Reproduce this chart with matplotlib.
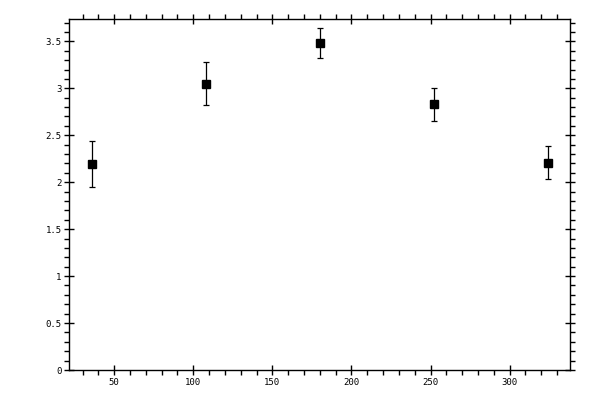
import matplotlib
matplotlib.use("Agg")
import matplotlib.pyplot as plt
from matplotlib.ticker import MultipleLocator, FormatStrFormatter, FuncFormatter

# data
angles = [36, 108, 180, 252, 324]
values = [2.19, 3.05, 3.48, 2.83, 2.21]
errors = [0.245, 0.23, 0.16, 0.175, 0.18]

plt.rcParams['font.family'] = ['DejaVu Sans Mono']

fig = plt.figure(figsize=(6, 4), dpi=100)
ax = fig.add_axes([0.1155, 0.075, 0.835, 0.8767])

ax.errorbar(angles, values, yerr=errors, fmt='s', color='black',
            markersize=5.2, capsize=2, elinewidth=0.9, capthick=0.9)

ax.set_xlim(21.6, 338.4)
ax.set_ylim(0, 3.735)

ax.xaxis.set_major_locator(MultipleLocator(50))
ax.xaxis.set_minor_locator(MultipleLocator(10))
ax.yaxis.set_major_locator(MultipleLocator(0.5))
ax.yaxis.set_minor_locator(MultipleLocator(0.1))
ax.yaxis.set_major_formatter(FuncFormatter(lambda v, p: f"{v:g}"))

for s in ax.spines.values():
    s.set_linewidth(1.0)

ax.tick_params(which='major', direction='inout', length=7, width=1.0,
               top=True, right=True, labelsize=6.5, pad=2)
ax.tick_params(which='minor', direction='out', length=3.5, width=1.0,
               top=True, right=True)

fig.savefig("out.png", dpi=100)
